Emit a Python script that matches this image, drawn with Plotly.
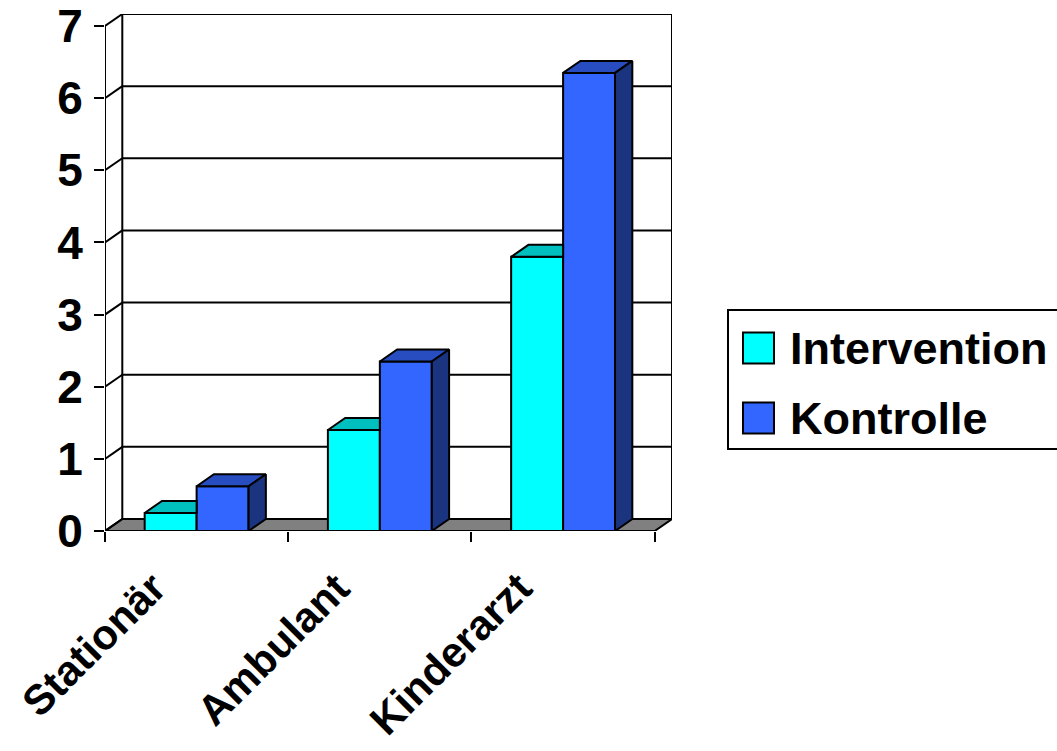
import plotly.graph_objects as go

# ---------------- data ----------------
categories = ["Stationär", "Ambulant", "Kinderarzt"]
series_names = ["Intervention", "Kontrolle"]
intervention = [0.25, 1.4, 3.8]
kontrolle = [0.62, 2.35, 6.35]
y_ticks = [0, 1, 2, 3, 4, 5, 6, 7]

# ---------------- style ----------------
FRONT = {"Intervention": "#00FFFF", "Kontrolle": "#3366FF"}
TOP = {"Intervention": "#00BFBF", "Kontrolle": "#284DC0"}
SIDE = {"Intervention": "#008080", "Kontrolle": "#1B3480"}
FONT = "Arial, Liberation Sans, sans-serif"

W, H = 1057, 751
ML, MR, MT, MB = 105, 385, 14, 220
PW = W - ML - MR
PH = H - MT - MB

YMAX = 7
DXU = 0.0944     # depth offset in category units
DYU = 0.1665     # depth offset in value units
BARGAP = 0.433
BW = (1 - BARGAP) / 2
XMIN, XMAX = -0.5, len(categories) - 0.5

def px2paper_x(px):
    return (px - ML) / PW

def px2paper_y(py):
    return (H - MB - py) / PH

fig = go.Figure()

# front faces (bars)
for name, vals in zip(series_names, [intervention, kontrolle]):
    fig.add_trace(go.Bar(
        x=list(range(len(categories))), y=vals, name=name,
        marker=dict(color=FRONT[name], line=dict(color="black", width=2)),
        hoverinfo="skip", showlegend=False,
    ))

def poly(xs, ys, color):
    fig.add_trace(go.Scatter(
        x=xs + [xs[0]], y=ys + [ys[0]], mode="lines", fill="toself",
        fillcolor=color, line=dict(color="black", width=2),
        hoverinfo="skip", showlegend=False,
    ))

# 3D top / side faces
for i, (vi, vk) in enumerate(zip(intervention, kontrolle)):
    x0 = i - BW
    x1 = i
    x2 = i + BW
    if vk >= vi + DYU:
        poly([x0, x1, x1, x0 + DXU], [vi, vi, vi + DYU, vi + DYU], TOP["Intervention"])
    else:
        poly([x0, x1, x1 + DXU, x0 + DXU], [vi, vi, vi + DYU, vi + DYU], TOP["Intervention"])
        poly([x1, x1, x1 + DXU, x1 + DXU], [0, vi, vi + DYU, DYU], SIDE["Intervention"])
    poly([x1, x2, x2 + DXU, x1 + DXU], [vk, vk, vk + DYU, vk + DYU], TOP["Kontrolle"])
    poly([x2, x2, x2 + DXU, x2 + DXU], [0, vk, vk + DYU, DYU], SIDE["Kontrolle"])

shapes = []
LINE = dict(color="black", width=2)
# floor
shapes.append(dict(type="path", xref="x", yref="y", layer="below",
                   path=f"M{XMIN},0 L{XMAX},0 L{XMAX + DXU},{DYU} L{XMIN + DXU},{DYU} Z",
                   fillcolor="#808080", line=LINE))
# back wall gridlines + side wall diagonals
for v in y_ticks[1:]:
    shapes.append(dict(type="line", xref="x", yref="y", layer="below",
                       x0=XMIN + DXU, x1=XMAX + DXU, y0=v + DYU, y1=v + DYU, line=LINE))
for v in y_ticks:
    shapes.append(dict(type="line", xref="x", yref="y", layer="below",
                       x0=XMIN, x1=XMIN + DXU, y0=v, y1=v + DYU, line=LINE))
shapes.append(dict(type="line", xref="x", yref="y", layer="below",
                   x0=XMIN + DXU, x1=XMIN + DXU, y0=DYU, y1=YMAX + DYU, line=LINE))
shapes.append(dict(type="line", xref="x", yref="y", layer="below",
                   x0=XMAX + DXU, x1=XMAX + DXU, y0=DYU, y1=YMAX + DYU, line=LINE))
# front value axis line
shapes.append(dict(type="line", xref="x", yref="y", layer="above",
                   x0=XMIN, x1=XMIN, y0=0, y1=YMAX, line=LINE))

# legend (drawn manually to match large swatches)
shapes.append(dict(type="rect", xref="paper", yref="paper",
                   x0=px2paper_x(728), x1=px2paper_x(1100),
                   y0=px2paper_y(449), y1=px2paper_y(310),
                   line=LINE, fillcolor="white", layer="above"))
annotations = []
for k, name in enumerate(series_names):
    cy = 348 + 70 * k
    shapes.append(dict(type="rect", xref="paper", yref="paper",
                       x0=px2paper_x(743), x1=px2paper_x(774),
                       y0=px2paper_y(cy + 15.5), y1=px2paper_y(cy - 15.5),
                       line=LINE, fillcolor=FRONT[name], layer="above"))
    annotations.append(dict(xref="paper", yref="paper", x=px2paper_x(788), y=px2paper_y(cy),
                            text=name, showarrow=False, xanchor="left", yanchor="middle",
                            font=dict(family=FONT, size=45, color="black", weight="bold")))

# category labels
for i, c in enumerate(categories):
    annotations.append(dict(xref="x", yref="paper", x=i, y=0, xshift=-19, yshift=-30,
                            text=c, textangle=-45, showarrow=False,
                            xanchor="right", yanchor="top",
                            font=dict(family=FONT, size=42, color="black", weight="bold")))

fig.update_layout(
    width=W, height=H,
    margin=dict(l=ML, r=MR, t=MT, b=MB, pad=0, autoexpand=False),
    paper_bgcolor="white", plot_bgcolor="white",
    barmode="group", bargap=BARGAP, bargroupgap=0,
    showlegend=False,
    shapes=shapes, annotations=annotations,
    xaxis=dict(range=[XMIN, XMAX + DXU], tickvals=[XMIN + k for k in range(len(categories) + 1)],
               ticktext=[""] * (len(categories) + 1), ticks="outside", ticklen=10,
               tickwidth=2, tickcolor="black", showgrid=False, zeroline=False,
               showline=False, fixedrange=True, automargin=False),
    yaxis=dict(range=[0, YMAX + DYU], tickvals=y_ticks, ticktext=[str(v) for v in y_ticks],
               ticks="outside", ticklen=10, tickwidth=2, tickcolor="black",
               ticklabelstandoff=2, automargin=False,
               tickfont=dict(family=FONT, size=46, color="black", weight="bold"),
               showgrid=False, zeroline=False, showline=False, fixedrange=True),
)

fig.write_html("out.html", config={"displayModeBar": False})
